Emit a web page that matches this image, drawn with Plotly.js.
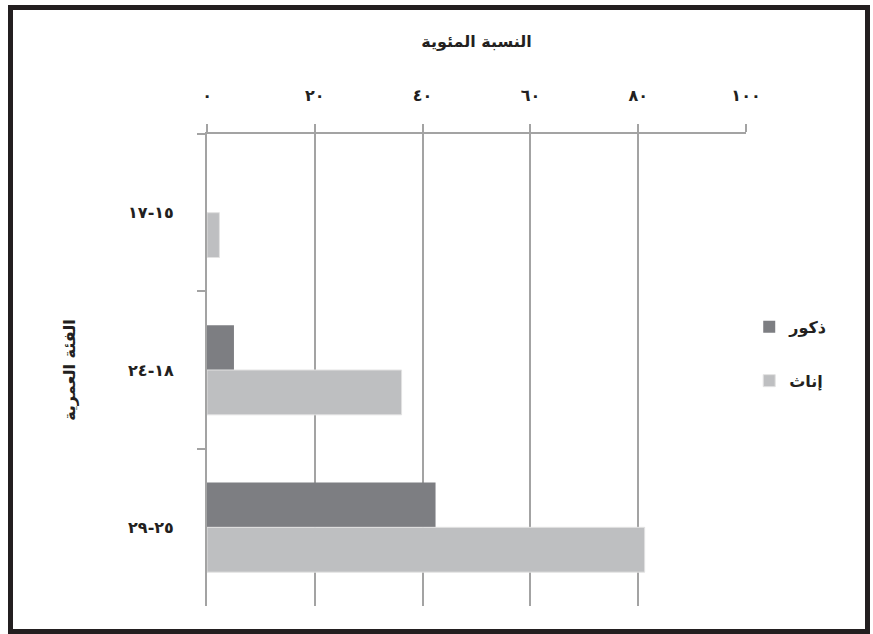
<!DOCTYPE html>
<html>
<head>
<meta charset="utf-8">
<script src="https://cdn.plot.ly/plotly-3.0.1.min.js"></script>
<style>
html, body { margin: 0; padding: 0; background: #fff; }
#wrap { position: absolute; left: 8px; top: 5px; width: 862px; height: 629px; box-sizing: border-box; border: 5px solid #231f20; }
#chart { position: absolute; left: 0; top: 0; width: 873px; height: 634px; }
</style>
</head>
<body>
<div id="chart"></div>
<div id="wrap"></div>
<script>
const categories = ['١٥-١٧', '١٨-٢٤', '٢٥-٢٩'];
const males = [0, 5.0, 42.4];
const females = [2.3, 36.1, 81.2];
const tickValues = [0, 20, 40, 60, 80, 100];
const tickLabels = ['٠', '٢٠', '٤٠', '٦٠', '٨٠', '١٠٠'];
const seriesNames = ['ذكور', 'إناث'];
const xTitle = 'النسبة المئوية';
const yTitle = 'الفئة العمرية';

const font = 'DejaVu Sans';
const traces = [
  { type: 'bar', orientation: 'h', name: seriesNames[0], y: categories, x: males,
    marker: { color: '#7d7e82', line: { width: 0 } }, legendgroup: 'm', hoverinfo: 'skip' },
  { type: 'bar', orientation: 'h', name: seriesNames[1], y: categories, x: females,
    marker: { color: '#bebfc1', line: { width: 1, color: '#e2e2e2' } }, legendgroup: 'f', hoverinfo: 'skip' }
];
const layout = {
  width: 873, height: 634,
  margin: { l: 207, r: 127, t: 134, b: 28 },
  paper_bgcolor: '#fff', plot_bgcolor: '#fff',
  font: { family: font, color: '#231f20', size: 14 },
  showlegend: true,
  barmode: 'group', bargap: 0.43, bargroupgap: 0,
  xaxis: {
    side: 'top', range: [0, 100], tickvals: tickValues, ticktext: tickLabels,
    showgrid: true, gridcolor: '#a3a3a3', gridwidth: 2,
    showline: true, linecolor: '#a3a3a3', linewidth: 2,
    ticks: 'outside', ticklen: 8, tickcolor: '#a3a3a3', tickwidth: 2,
    ticklabelstandoff: 17, zeroline: false,
    tickfont: { family: font, size: 16, color: '#231f20', weight: 'bold' },
    title: { text: xTitle, standoff: 34, font: { family: font, size: 16, color: '#231f20', weight: 'bold' } }
  },
  yaxis: {
    autorange: 'reversed', type: 'category', tickson: 'boundaries',
    showgrid: false, showline: true, linecolor: '#a3a3a3', linewidth: 2,
    ticks: 'outside', ticklen: 8, tickcolor: '#a3a3a3', tickwidth: 2,
    ticklabelstandoff: 28, zeroline: false,
    tickfont: { family: font, size: 16, color: '#231f20', weight: 'bold' },
    title: { text: yTitle, standoff: 48, font: { family: font, size: 16, color: '#231f20', weight: 'bold' } }
  },
  legend: {
    x: 1.006, y: 0.534, xanchor: 'left', yanchor: 'middle',
    traceorder: 'grouped', tracegroupgap: 30,
    font: { family: font, size: 16, color: '#231f20', weight: 'bold' },
    itemwidth: 30
  }
};
Plotly.newPlot('chart', traces, layout, { displayModeBar: false, staticPlot: true });
</script>
</body>
</html>
